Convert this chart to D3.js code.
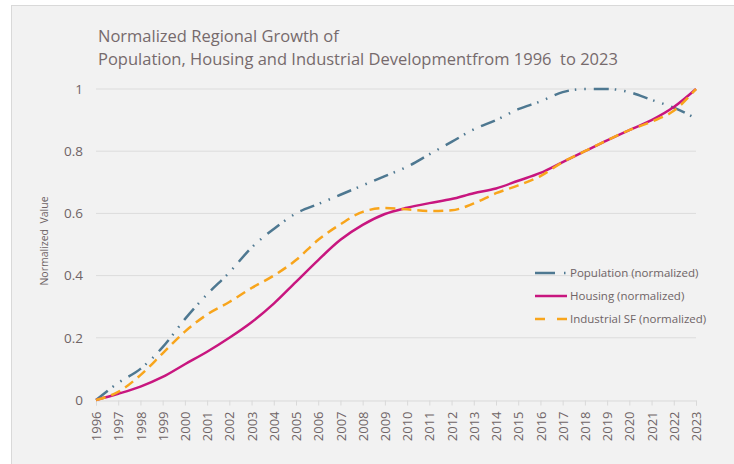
<!DOCTYPE html>
<html><head><meta charset="utf-8">
<script src="https://cdn.jsdelivr.net/npm/d3@7"></script>
<style>
html,body{margin:0;padding:0;background:#fff;}
text{font-family:"Open Sans","Noto Sans",sans-serif;}
</style></head>
<body>
<svg id="c" width="734" height="464"></svg>
<script>
const years = d3.range(1996, 2024);
const population = [0,0.055,0.10,0.17,0.26,0.34,0.41,0.49,0.55,0.60,0.63,0.66,0.69,0.72,0.75,0.79,0.83,0.87,0.90,0.935,0.96,0.99,1.0,1.0,0.99,0.965,0.94,0.905];
const housing = [0,0.02,0.043,0.074,0.115,0.155,0.20,0.25,0.31,0.38,0.45,0.515,0.563,0.598,0.618,0.633,0.646,0.665,0.68,0.705,0.73,0.765,0.80,0.835,0.868,0.90,0.942,1.0];
const industrial = [0,0.026,0.08,0.15,0.22,0.275,0.315,0.36,0.40,0.45,0.515,0.565,0.605,0.617,0.613,0.608,0.61,0.632,0.665,0.69,0.72,0.765,0.80,0.835,0.868,0.895,0.93,1.0];
const yTicks = [0,0.2,0.4,0.6,0.8,1];
const seriesNames = ["Population (normalized)","Housing (normalized)","Industrial SF (normalized)"];
const colors = ["#4e7891","#c8167f","#f8a51c"];
const dashes = ["15,6,1.5,8,1.5,8","none","10,6"];

const svg = d3.select("#c");
svg.append("rect").attr("x",11.5).attr("y",5.5).attr("width",740).attr("height",470)
  .attr("fill","#f2f2f2").attr("stroke","#d9d9d9").attr("stroke-width",1);

const x = d3.scaleLinear().domain([1996,2023]).range([96,696]);
const y = d3.scaleLinear().domain([0,1]).range([400,89]);

// gridlines
svg.append("g").selectAll("line").data(yTicks.filter(d=>d>0)).join("line")
  .attr("x1",96).attr("x2",696).attr("y1",d=>y(d)).attr("y2",d=>y(d))
  .attr("stroke","#dcdcdc").attr("stroke-width",1);

// y axis labels
const yAxis = d3.axisLeft(y).tickValues(yTicks).tickSize(0).tickPadding(0).tickFormat(d3.format("~g"));
const gy = svg.append("g").attr("transform","translate(83,0)").call(yAxis);
gy.select(".domain").remove();
gy.selectAll("text").attr("fill","#6f6466").style("font-size","13.5px");

// x axis
const xAxis = d3.axisBottom(x).tickValues(years).tickSize(5).tickFormat(d3.format("d"));
const gx = svg.append("g").attr("transform","translate(0,400.5)").call(xAxis);
gx.select(".domain").attr("stroke","#d9d9d9");
gx.selectAll(".tick line").attr("stroke","#d9d9d9");
gx.selectAll("text").attr("fill","#6f6466").style("font-size","13px")
  .attr("transform","rotate(-90)").attr("text-anchor","end").attr("x",-11).attr("y",0).attr("dy","0.35em");

// y title
svg.append("text").attr("transform","translate(48,241) rotate(-90)").attr("text-anchor","middle")
  .attr("fill","#6f6466").style("font-size","10.5px").attr("xml:space","preserve").text("Normalized  Value");

// title
const title = svg.append("text").attr("fill","#766a6c").style("font-size","16.5px");
title.append("tspan").attr("x",98).attr("y",41.5).text("Normalized Regional Growth of");
title.append("tspan").attr("x",98).attr("y",65).attr("xml:space","preserve").text("Population, Housing and Industrial Developmentfrom 1996  to 2023");

// lines
const data = [population, housing, industrial];
const line = d3.line().x((d,i)=>x(years[i])).y(d=>y(d)).curve(d3.curveMonotoneX);
data.forEach((s,k)=>{
  svg.append("path").datum(s).attr("d",line).attr("fill","none")
    .attr("stroke",colors[k]).attr("stroke-width",2.5)
    .attr("stroke-dasharray",dashes[k]==="none"?null:dashes[k]);
});

// legend
const lg = svg.append("g");
const lyPos = [273,296,319];
seriesNames.forEach((n,k)=>{
  lg.append("line").attr("x1",535).attr("x2",567).attr("y1",lyPos[k]).attr("y2",lyPos[k])
    .attr("stroke",colors[k]).attr("stroke-width",2.5)
    .attr("stroke-dasharray",k===0?"20,9,1.5,20":(k===2?"10,12":null));
  lg.append("text").attr("x",570).attr("y",lyPos[k]).attr("dy","0.35em")
    .attr("fill","#6f6466").style("font-size","11.5px").text(n);
});
</script>
</body></html>
